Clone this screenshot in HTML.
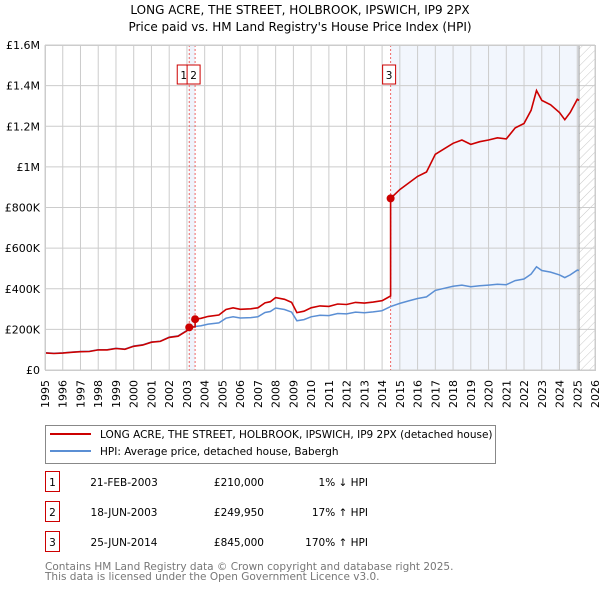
<!DOCTYPE html>
<html><head><meta charset="utf-8"><style>
body{margin:0;background:#fff;width:600px;height:590px;overflow:hidden;font-family:"DejaVu Sans","Liberation Sans",sans-serif;}
svg text{font-family:"DejaVu Sans","Liberation Sans",sans-serif;}
</style></head><body>
<svg id="chart" width="600" height="590" xmlns="http://www.w3.org/2000/svg">
<text x="300" y="14" text-anchor="middle" font-size="12">LONG ACRE, THE STREET, HOLBROOK, IPSWICH, IP9 2PX</text>
<text x="300" y="31" text-anchor="middle" font-size="12">Price paid vs. HM Land Registry's House Price Index (HPI)</text>
<defs><pattern id="hatch" width="6" height="6" patternUnits="userSpaceOnUse" patternTransform="rotate(45)"><line x1="0" y1="0" x2="0" y2="6" stroke="#bbb" stroke-width="0.8"/></pattern></defs>
<g id="plot"></g>
<g>
<rect x="45.5" y="425.5" width="450" height="38" fill="#fff" stroke="#888"/>
<line x1="50" y1="434" x2="91" y2="434" stroke="#cc0000" stroke-width="2"/>
<text x="100" y="438" font-size="10.5">LONG ACRE, THE STREET, HOLBROOK, IPSWICH, IP9 2PX (detached house)</text>
<line x1="50" y1="451" x2="91" y2="451" stroke="#5b8fd4" stroke-width="2"/>
<text x="100" y="455" font-size="10.5">HPI: Average price, detached house, Babergh</text>
</g>
<g id="table" font-size="10.5"></g>
<text x="45" y="570" font-size="10.5" fill="#777">Contains HM Land Registry data © Crown copyright and database right 2025.</text>
<text x="45" y="580" font-size="10.5" fill="#777">This data is licensed under the Open Government Licence v3.0.</text>
</svg>
<script>
const yearTicks=[1995,1996,1997,1998,1999,2000,2001,2002,2003,2004,2005,2006,2007,2008,2009,2010,2011,2012,2013,2014,2015,2016,2017,2018,2019,2020,2021,2022,2023,2024,2025,2026];
const priceTicks=[0,200000,400000,600000,800000,1000000,1200000,1400000,1600000];
const priceLabels=["£0","£200K","£400K","£600K","£800K","£1M","£1.2M","£1.4M","£1.6M"];
const hpiT=[1995,1995.5,1996,1996.5,1997,1997.5,1998,1998.5,1999,1999.5,2000,2000.5,2001,2001.5,2002,2002.5,2003,2003.13,2003.46,2003.8,2004.2,2004.8,2005.2,2005.6,2006,2006.6,2007,2007.4,2007.7,2008,2008.5,2008.9,2009.2,2009.6,2010,2010.5,2011,2011.5,2012,2012.5,2013,2013.5,2014,2014.48,2015,2015.5,2016,2016.5,2017,2017.5,2018,2018.5,2019,2019.5,2020,2020.5,2021,2021.5,2022,2022.4,2022.7,2023,2023.5,2024,2024.3,2024.6,2025,2025.1];
const hpiV=[85000,82000,84000,88000,91000,92000,100000,100000,107000,103000,118000,124000,138000,142000,162000,168000,195000,212000,214000,218000,226000,232000,255000,262000,256000,258000,262000,283000,288000,305000,298000,285000,242000,248000,262000,270000,268000,278000,276000,285000,282000,286000,292000,312000,328000,340000,352000,360000,392000,402000,412000,418000,410000,415000,418000,422000,420000,440000,448000,472000,508000,490000,482000,468000,455000,468000,492000,490000];
const saleT=[2003.13,2003.46,2014.48];
const saleV=[210000,249950,845000];
const saleDates=["21-FEB-2003","18-JUN-2003","25-JUN-2014"];
const salePrices=["£210,000","£249,950","£845,000"];
const saleHpi=["1% ↓ HPI","17% ↑ HPI","170% ↑ HPI"];

const X0=45,X1=595,Y0=370,Y1=45;
const xs=t=>X0+(t-1995)/(2026-1995)*(X1-X0);
const ys=v=>Y0-v/1600000*(Y0-Y1);
const NS="http://www.w3.org/2000/svg";
const plot=document.getElementById('plot');
function mk(tag,attrs,parent){const e=document.createElementNS(NS,tag);for(const k in attrs)e.setAttribute(k,attrs[k]);(parent||plot).appendChild(e);return e;}
function hpiAt(t){for(let i=1;i<hpiT.length;i++){if(t<=hpiT[i]){const f=(t-hpiT[i-1])/(hpiT[i]-hpiT[i-1]);return hpiV[i-1]+f*(hpiV[i]-hpiV[i-1]);}}return hpiV[hpiV.length-1];}

let e=mk('rect',{x:xs(saleT[0]),y:Y1,width:xs(saleT[1])-xs(saleT[0]),height:Y0-Y1,fill:'#eef3fb'});


e=mk('rect',{x:xs(saleT[2]),y:Y1,width:xs(2025.1)-xs(saleT[2]),height:Y0-Y1,fill:'#f2f6fd'});


e=mk('rect',{x:xs(2025.1),y:Y1,width:X1-xs(2025.1),height:Y0-Y1,fill:'url(#hatch)'});


yearTicks.forEach((y,i)=>{
 const g=mk('line',{x1:xs(y),x2:xs(y),y1:Y1,y2:Y0,stroke:'#ccc','stroke-width':1});
 
 
 const t=mk('text',{x:0,y:0,'font-size':11,transform:`translate(${xs(y)+4},${Y0+38}) rotate(-90)`});
 t.textContent=y;
 
 
});
priceTicks.forEach((v,i)=>{
 const g=mk('line',{x1:X0,x2:X1,y1:ys(v),y2:ys(v),stroke:'#ccc','stroke-width':1});
 
 
 const t=mk('text',{x:40,y:ys(v)+4,'font-size':11,'text-anchor':'end'});
 t.textContent=priceLabels[i];
 
 
});
e=mk('line',{x1:xs(2025.1),x2:xs(2025.1),y1:Y1,y2:Y0,stroke:'#999','stroke-width':1});


saleT.forEach((t,i)=>{
 const l=mk('line',{x1:xs(t),x2:xs(t),y1:Y1,y2:Y0,stroke:'#ee6666','stroke-width':1,'stroke-dasharray':'2,2'});
 
 
});
let d=hpiT.map((t,i)=>(i?'L':'M')+xs(t).toFixed(1)+','+ys(hpiV[i]).toFixed(1)).join('');
e=mk('path',{d:d,fill:'none',stroke:'#5b8fd4','stroke-width':1.5});


let pts=[];
function factor(t){let k=0;for(let i=0;i<saleT.length;i++)if(t>=saleT[i])k=i;return saleV[k]/hpiAt(saleT[k]);}
hpiT.forEach((t,i)=>{
 for(let s=0;s<saleT.length;s++){if(i>0&&hpiT[i-1]<saleT[s]&&t>=saleT[s]){const ts=saleT[s];pts.push([ts,hpiAt(ts)*factor(ts-0.001)]);pts.push([ts,saleV[s]]);}}
 pts.push([t,hpiV[i]*factor(t)]);
});
d=pts.map((p,i)=>(i?'L':'M')+xs(p[0]).toFixed(1)+','+ys(p[1]).toFixed(1)).join('');
e=mk('path',{d:d,fill:'none',stroke:'#cc0000','stroke-width':1.6});


saleT.forEach((t,i)=>{
 const c=mk('circle',{cx:xs(t),cy:ys(saleV[i]),r:4,fill:'#cc0000'});
 
 
 const bx=i==0?xs(t)-12:xs(t)-8;
 const b=mk('rect',{x:bx,y:65,width:13,height:19,fill:'#fff',stroke:'#cc0000'});
 
 
 const tx=mk('text',{x:bx+6.5,y:79,'font-size':10.5,'text-anchor':'middle'});
 tx.textContent=i+1;
 
 
});
e=mk('rect',{x:X0+0.5,y:Y1+0.5,width:X1-X0,height:Y0-Y1,fill:'none',stroke:'#ccc'});


const tbl=document.getElementById('table');
saleT.forEach((t,i)=>{
 const y=482+i*30;
 const r=mk('rect',{x:45.5,y:y-10.5,width:14,height:20,fill:'#fff',stroke:'#cc0000'},tbl);
 
 
 const cells=[[52.5,'middle',String(i+1)],[124,'middle',saleDates[i]],[264,'end',salePrices[i]],[368,'end',saleHpi[i]]];
 cells.forEach((c,j)=>{const tx=mk('text',{x:c[0],y:y+4,'text-anchor':c[1]},tbl);tx.textContent=c[2];
  
  });
});
</script>
</body></html>
